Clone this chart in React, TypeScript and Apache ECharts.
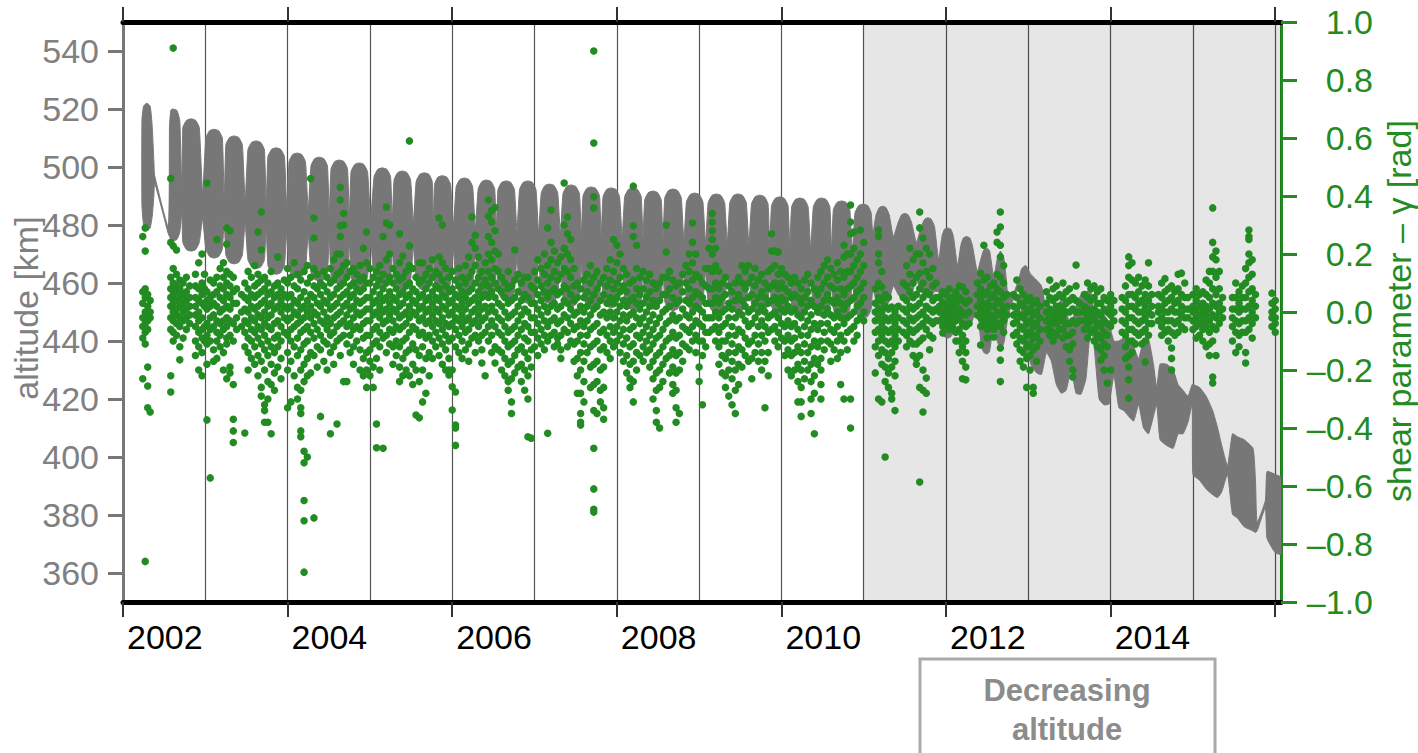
import React, { useEffect, useRef } from "react";
import * as echarts from "echarts";

// ---------- axis ticks / labels ----------
const yearTicks = [2002, 2004, 2006, 2008, 2010, 2012, 2014, 2016];
const yearLabels = [2002, 2004, 2006, 2008, 2010, 2012, 2014];
const altTicks = [360, 380, 400, 420, 440, 460, 480, 500, 520, 540];

// ---------- altitude band outline: [year, upper edge km, lower edge km] ----------
const altBandEarly = [
  [2002.23, 516, 487], [2002.25, 521, 480], [2002.29, 522, 478], [2002.33, 521, 479],
  [2002.355, 514, 483], [2002.375, 502, 490], [2002.385, 497, 494.5], [2002.55, 479.5, 477],
  [2002.565, 514, 476], [2002.58, 519.5, 475], [2002.6, 520, 474.5], [2002.655, 519.5, 475], [2002.69, 516, 477.5],
  [2002.715, 492, 484],
  [2002.727, 513.6, 474], [2002.772, 516.1, 471.5], [2002.827, 516.6, 471], [2002.882, 516.1, 471.5], [2002.927, 513.6, 474],
  [2002.967, 491, 482],
  [2003.007, 510, 471.6], [2003.052, 512.5, 469.1], [2003.107, 513, 468.6], [2003.162, 512.5, 469.1], [2003.207, 510, 471.6],
  [2003.23, 489, 482],
  [2003.25, 507.7, 469.6], [2003.295, 510.2, 467.1], [2003.35, 510.7, 466.6], [2003.405, 510.2, 467.1], [2003.45, 507.7, 469.6],
  [2003.484, 488.5, 480.5],
  [2003.518, 506, 468], [2003.563, 508.5, 465.5], [2003.618, 509, 465], [2003.673, 508.5, 465.5], [2003.718, 506, 468],
  [2003.74, 487.5, 479],
  [2003.761, 503.6, 466], [2003.806, 506.1, 463.5], [2003.861, 506.6, 463], [2003.916, 506.1, 463.5], [2003.961, 503.6, 466],
  [2003.99, 486, 477.5],
  [2004.017, 501.8, 464.7], [2004.062, 504.3, 462.2], [2004.117, 504.8, 461.7], [2004.172, 504.3, 462.2], [2004.217, 501.8, 464.7],
  [2004.25, 485, 476.5],
  [2004.284, 500.4, 463.7], [2004.329, 502.9, 461.2], [2004.384, 503.4, 460.7], [2004.439, 502.9, 461.2], [2004.484, 500.4, 463.7],
  [2004.506, 484, 475.5],
  [2004.528, 499.4, 462.7], [2004.573, 501.9, 460.2], [2004.628, 502.4, 459.7], [2004.683, 501.9, 460.2], [2004.728, 499.4, 462.7],
  [2004.75, 483, 474.5],
  [2004.771, 498.4, 462], [2004.816, 500.9, 459.5], [2004.871, 501.4, 459], [2004.926, 500.9, 459.5], [2004.971, 498.4, 462],
  [2005.01, 482.5, 474],
  [2005.051, 496.7, 461.5], [2005.096, 499.2, 459], [2005.151, 499.7, 458.5], [2005.206, 499.2, 459], [2005.251, 496.7, 461.5],
  [2005.272, 481.5, 473],
  [2005.294, 495.6, 461], [2005.339, 498.1, 458.5], [2005.394, 498.6, 458], [2005.449, 498.1, 458.5], [2005.494, 495.6, 461],
  [2005.528, 481, 472.5],
  [2005.562, 495, 460.5], [2005.607, 497.5, 458], [2005.662, 498, 457.5], [2005.717, 497.5, 458], [2005.757, 495, 460.5],
  [2005.771, 480.5, 472],
  [2005.785, 494, 460], [2005.825, 496.5, 457.5], [2005.88, 497, 457], [2005.935, 496.5, 457.5], [2005.98, 494, 460],
  [2006.014, 480, 471.5],
];
const altBandMid = [
  [2006.048, 493.2, 459], [2006.093, 495.7, 456.5], [2006.148, 496.2, 456], [2006.203, 495.7, 456.5], [2006.248, 493.2, 459],
  [2006.282, 479, 470.5],
  [2006.316, 492.5, 458], [2006.361, 495, 455.5], [2006.416, 495.5, 455], [2006.471, 495, 455.5], [2006.516, 492.5, 458],
  [2006.536, 478.5, 469.5],
  [2006.556, 492.2, 457], [2006.601, 494.7, 454.5], [2006.656, 495.2, 454], [2006.711, 494.7, 454.5], [2006.756, 492.2, 457],
  [2006.787, 478, 469],
  [2006.818, 492.2, 456], [2006.863, 494.7, 453.5], [2006.918, 495.2, 453], [2006.973, 494.7, 453.5], [2007.018, 492.2, 456],
  [2007.05, 477.5, 468],
  [2007.082, 491.1, 456], [2007.127, 493.6, 453.5], [2007.182, 494.1, 453], [2007.237, 493.6, 453.5], [2007.282, 491.1, 456],
  [2007.314, 477, 467.5],
  [2007.346, 490.8, 455], [2007.391, 493.3, 452.5], [2007.446, 493.8, 452], [2007.501, 493.3, 452.5], [2007.546, 490.8, 455],
  [2007.568, 476.5, 467],
  [2007.59, 490.1, 455], [2007.635, 492.6, 452.5], [2007.69, 493.1, 452], [2007.745, 492.6, 452.5], [2007.79, 490.1, 455],
  [2007.81, 476, 466.5],
  [2007.833, 489.8, 454.5], [2007.878, 492.3, 452], [2007.933, 492.8, 451.5], [2007.988, 492.3, 452], [2008.033, 489.8, 454.5],
  [2008.065, 476, 466],
  [2008.096, 489.8, 454], [2008.141, 492.3, 451.5], [2008.196, 492.8, 451], [2008.251, 492.3, 451.5], [2008.296, 489.8, 454],
  [2008.318, 475.5, 465.5],
  [2008.339, 488.7, 454], [2008.384, 491.2, 451.5], [2008.439, 491.7, 451], [2008.494, 491.2, 451.5], [2008.539, 488.7, 454],
  [2008.561, 475, 465],
  [2008.583, 489.4, 453.5], [2008.628, 491.9, 451], [2008.683, 492.4, 450.5], [2008.738, 491.9, 451], [2008.783, 489.4, 453.5],
  [2008.815, 474.5, 464.5],
  [2008.846, 488, 453.5], [2008.891, 490.5, 451], [2008.946, 491, 450.5], [2009.001, 490.5, 451], [2009.046, 488, 453.5],
  [2009.078, 474, 464],
  [2009.11, 487.7, 453], [2009.155, 490.2, 450.5], [2009.21, 490.7, 450], [2009.265, 490.2, 450.5], [2009.31, 487.7, 453],
  [2009.342, 474, 463.5],
  [2009.373, 487.7, 453], [2009.418, 490.2, 450.5], [2009.473, 490.7, 450], [2009.528, 490.2, 450.5], [2009.573, 487.7, 453],
  [2009.605, 473.5, 463],
  [2009.637, 487.3, 452.5], [2009.682, 489.8, 450], [2009.737, 490.3, 449.5], [2009.792, 489.8, 450], [2009.837, 487.3, 452.5],
  [2009.858, 473, 462.5],
  [2009.88, 486.7, 452], [2009.925, 489.2, 449.5], [2009.98, 489.7, 449], [2010.035, 489.2, 449.5], [2010.08, 486.7, 452],
  [2010.102, 472.5, 462],
  [2010.124, 486.3, 452], [2010.169, 488.8, 449.5], [2010.224, 489.3, 449], [2010.279, 488.8, 449.5], [2010.324, 486.3, 452],
  [2010.356, 472, 461.5],
  [2010.388, 486.3, 451.5], [2010.433, 488.8, 449], [2010.488, 489.3, 448.5], [2010.543, 488.8, 449], [2010.588, 486.3, 451.5],
  [2010.61, 471.5, 461],
  [2010.631, 485.3, 451], [2010.676, 487.8, 448.5], [2010.731, 488.3, 448], [2010.786, 487.8, 448.5], [2010.831, 485.3, 451],
  [2010.862, 471, 460.5],
  [2010.894, 484.2, 451], [2010.939, 486.7, 448.5], [2010.994, 487.2, 448], [2011.049, 486.7, 448.5], [2011.09, 484.2, 451],
];
const altBandLate = [
  [2011.11, 477, 458],
  [2011.15, 483.5, 454], [2011.19, 486, 451.5], [2011.23, 486.5, 451], [2011.27, 486, 451.5], [2011.31, 483.5, 454],
  [2011.36, 476, 459],
  [2011.42, 481, 456], [2011.46, 483.5, 454.5], [2011.5, 484, 454], [2011.54, 483.5, 454.5], [2011.58, 481, 456],
  [2011.64, 474, 461],
  [2011.7, 479.5, 457], [2011.74, 482, 455.5], [2011.78, 482.5, 455], [2011.82, 482, 455.5], [2011.86, 479.5, 457],
  [2011.91, 468, 457],
  [2011.95, 476, 443], [2011.98, 478.5, 441.5], [2012.02, 479, 441], [2012.06, 478.5, 441.5], [2012.09, 476, 443],
  [2012.14, 466, 452],
  [2012.18, 473, 447], [2012.21, 475.5, 445], [2012.25, 476, 444.5], [2012.29, 475.5, 445], [2012.32, 473, 447],
  [2012.38, 464, 451],
  [2012.43, 469, 438], [2012.46, 471.5, 436], [2012.5, 472, 435.5], [2012.53, 471, 436.5],
  [2012.58, 462, 446],
  [2012.62, 468, 440], [2012.66, 471, 437.6], [2012.7, 469, 439], [2012.73, 462, 444],
  [2012.75, 456, 448], [2012.8, 455, 453], [2012.88, 461, 458.5], [2012.92, 465, 450], [2012.97, 466, 440],
  [2013.03, 463, 432], [2013.1, 461, 429], [2013.16, 459, 428.5], [2013.22, 450, 436],
  [2013.28, 445, 433], [2013.34, 452, 425], [2013.4, 454, 422], [2013.46, 450, 423],
  [2013.52, 445, 430], [2013.58, 452, 422], [2013.64, 456, 421.7], [2013.7, 457, 427],
  [2013.76, 457, 446], [2013.8, 449, 438], [2013.86, 448, 420], [2013.92, 449, 418],
  [2013.98, 446, 418.3], [2014.04, 440, 428], [2014.1, 440, 417], [2014.16, 441, 416],
  [2014.22, 440, 414], [2014.28, 438, 412.4], [2014.34, 434, 418], [2014.4, 440, 410],
  [2014.46, 440.7, 408], [2014.52, 432, 414], [2014.56, 424, 418], [2014.6, 432, 406],
  [2014.68, 432, 404], [2014.76, 430, 403], [2014.82, 425, 408], [2014.88, 423, 408],
  [2014.94, 421, 412], [2014.99, 425, 418], [2015.0, 425, 394], [2015.08, 424, 392],
  [2015.16, 421, 389], [2015.24, 416, 387], [2015.3, 410, 386], [2015.35, 404, 388],
  [2015.42, 397, 394], [2015.48, 408, 380.3], [2015.54, 407, 379], [2015.62, 406, 376],
  [2015.73, 403, 374.5], [2015.76, 392, 374], [2015.78, 377.5, 374.5], [2015.88, 385, 382.5],
  [2015.9, 395, 372], [2016.0, 394, 367], [2016.07, 393, 366.5],
];

// ---------- shear parameter: [year, value, value, ...] columns ----------
const shear2002 = [
  [2002.24, 0.26, 0.07, 0.03, -0.02, -0.05, -0.09, -0.23],
  [2002.27, 0.29, 0.21, 0.08, 0.05, 0.0, -0.04, -0.07, -0.11, -0.86],
  [2002.3, 0.06, 0.02, -0.01, -0.03, -0.06, -0.19, -0.255, -0.33],
  [2002.33, 0.04, 0.0, -0.02, -0.345],
  [2002.58, 0.46, 0.24, 0.12, 0.08, 0.05, 0.02, -0.02, -0.06, -0.22, -0.276],
  [2002.61, 0.91, 0.228, 0.15, 0.1, 0.06, 0.03, 0.0, -0.03, -0.07, -0.1],
  [2002.65, 0.214, 0.13, 0.09, 0.07, 0.04, 0.01, -0.01, -0.04, -0.08],
  [2002.69, 0.11, 0.08, 0.05, 0.02, -0.02, -0.05, -0.12, -0.165],
  [2002.73, 0.1, 0.06, 0.03, 0.0, -0.03, -0.09],
  [2002.77, 0.12, 0.07, 0.04, 0.01, -0.02, -0.06],
  [2002.81, 0.09, 0.05, 0.02, -0.01, -0.04],
  [2002.88, 0.13, 0.09, 0.05, 0.02, -0.01, -0.05, -0.1, -0.15],
  [2002.92, 0.17, 0.08, 0.04, 0.0, -0.03, -0.07, -0.12, -0.2],
  [2002.96, 0.2, 0.1, 0.06, 0.03, -0.02, -0.06, -0.09, -0.14, -0.22],
  [2002.99, 0.13, 0.08, 0.02, -0.05, -0.1],
];
const shear2003 = [
  [2003.02, 0.445, 0.07, 0.04, 0.01, -0.04, -0.08, -0.11, -0.18, -0.372],
  [2003.06, 0.11, 0.05, 0.02, -0.02, -0.06, -0.1, -0.572],
  [2003.1, 0.1, 0.06, 0.03, -0.01, -0.05, -0.13, -0.17],
  [2003.14, 0.25, 0.12, 0.07, 0.02, -0.03, -0.07, -0.1, -0.16],
  [2003.18, 0.15, 0.09, 0.05, 0.0, -0.04, -0.08, -0.12],
  [2003.22, 0.17, 0.12, 0.08, 0.04, 0.01, -0.03, -0.06, -0.14, -0.2],
  [2003.26, 0.29, 0.234, 0.14, 0.1, 0.06, 0.02, -0.02, -0.05, -0.09, -0.11, -0.23],
  [2003.3, 0.28, 0.13, 0.09, 0.05, 0.01, -0.03, -0.08, -0.19, -0.21],
  [2003.34, 0.12, 0.07, 0.03, -0.04, -0.1, -0.25, -0.37, -0.41, -0.45],
  [2003.38, 0.08, 0.03, -0.02, -0.06],
  [2003.44, 0.06, 0.0, -0.05],
  [2003.48, 0.1, 0.05, 0.01, -0.03, -0.07, -0.12, -0.417],
  [2003.52, 0.14, 0.08, 0.04, 0.0, -0.04, -0.09, -0.14, -0.2],
  [2003.56, 0.12, 0.06, 0.02, -0.02, -0.06, -0.1, -0.16],
  [2003.6, 0.16, 0.09, 0.05, 0.01, -0.03, -0.07, -0.12, -0.18],
  [2003.64, 0.276, 0.13, 0.1, 0.06, 0.02, -0.01, -0.05, -0.09, -0.15, -0.22],
  [2003.68, 0.345, 0.214, 0.11, 0.07, 0.03, -0.02, -0.06, -0.11, -0.17, -0.26, -0.29],
  [2003.72, 0.12, 0.08, 0.04, 0.0, -0.04, -0.08, -0.13, -0.2, -0.32, -0.34, -0.38],
  [2003.76, 0.1, 0.06, 0.02, -0.02, -0.05, -0.1, -0.15, -0.24, -0.3, -0.38],
  [2003.8, 0.14, 0.07, 0.03, -0.01, -0.06, -0.12, -0.18, -0.25, -0.42],
  [2003.84, 0.09, 0.05, 0.01, -0.04, -0.09, -0.14, -0.21, -0.27],
  [2003.88, 0.19, 0.1, 0.06, 0.02, -0.03, -0.08, -0.12, -0.19],
  [2003.92, 0.08, 0.04, 0.0, -0.05, -0.1, -0.16, -0.23],
  [2003.96, 0.11, 0.06, 0.02, -0.02, -0.07],
];
const shear2004 = [
  [2004.0, 0.15, 0.1, 0.05, 0.01, -0.03, -0.08, -0.14, -0.2, -0.33],
  [2004.04, 0.12, 0.06, 0.02, -0.02, -0.06, -0.1, -0.17, -0.31],
  [2004.08, 0.17, 0.09, 0.04, 0.0, -0.05, -0.12, -0.22],
  [2004.12, 0.13, 0.08, 0.03, -0.01, -0.04, -0.09, -0.15, -0.26, -0.3],
  [2004.16, 0.11, 0.05, 0.01, -0.03, -0.07, -0.13, -0.2, -0.27, -0.33, -0.35, -0.41, -0.43],
  [2004.2, 0.14, 0.07, 0.02, -0.02, -0.06, -0.11, -0.18, -0.24, -0.48, -0.52, -0.65, -0.72, -0.897],
  [2004.24, 0.16, 0.1, 0.04, 0.0, -0.05, -0.1, -0.16, -0.22, -0.5],
  [2004.28, 0.46, 0.12, 0.06, 0.02, -0.02, -0.07, -0.14, -0.21],
  [2004.32, 0.324, 0.255, 0.15, 0.09, 0.05, 0.0, -0.04, -0.09, -0.15, -0.71],
  [2004.36, 0.13, 0.08, 0.03, -0.01, -0.06, -0.12, -0.19],
  [2004.4, 0.1, 0.06, 0.02, -0.03, -0.08, -0.13, -0.36],
  [2004.44, 0.14, 0.09, 0.04, 0.0, -0.04, -0.1, -0.17],
  [2004.48, 0.12, 0.07, 0.03, -0.02, -0.06, -0.11, -0.2],
  [2004.52, 0.15, 0.1, 0.05, 0.01, -0.04, -0.08, -0.14, -0.42],
  [2004.56, 0.18, 0.11, 0.06, 0.02, -0.02, -0.07, -0.12, -0.18],
  [2004.6, 0.2, 0.13, 0.08, 0.03, -0.01, -0.05, -0.1, -0.386],
  [2004.64, 0.43, 0.386, 0.297, 0.26, 0.2, 0.14, 0.09, 0.05, 0.0, -0.04, -0.09, -0.15],
  [2004.68, 0.34, 0.3, 0.16, 0.1, 0.06, 0.02, -0.03, -0.08, -0.24],
  [2004.72, 0.17, 0.12, 0.07, 0.03, -0.01, -0.05, -0.11, -0.24],
  [2004.76, 0.14, 0.09, 0.05, 0.01, -0.04, -0.08, -0.14],
  [2004.8, 0.15, 0.1, 0.06, 0.02, -0.02, -0.06, -0.12, -0.18],
  [2004.84, 0.13, 0.08, 0.04, 0.0, -0.05, -0.1],
  [2004.88, 0.16, 0.11, 0.07, 0.03, -0.01, -0.06, -0.13, -0.2],
  [2004.92, 0.22, 0.12, 0.08, 0.04, 0.0, -0.04, -0.09, -0.16, -0.22],
  [2004.96, 0.276, 0.17, 0.1, 0.05, 0.01, -0.03, -0.08, -0.14, -0.2, -0.26],
];
const shear2005 = [
  [2005.0, 0.15, 0.1, 0.05, 0.01, -0.03, -0.08, -0.13, -0.17, -0.22],
  [2005.04, 0.12, 0.07, 0.03, -0.01, -0.06, -0.11, -0.19, -0.26],
  [2005.08, 0.14, 0.09, 0.04, 0.0, -0.05, -0.1, -0.16, -0.386, -0.468],
  [2005.12, 0.16, 0.11, 0.06, 0.02, -0.02, -0.07, -0.12, -0.2],
  [2005.16, 0.26, 0.13, 0.08, 0.04, 0.0, -0.04, -0.09, -0.47],
  [2005.2, 0.362, 0.307, 0.18, 0.1, 0.05, 0.01, -0.03, -0.08, -0.14],
  [2005.24, 0.3, 0.2, 0.12, 0.07, 0.03, -0.01, -0.06, -0.11],
  [2005.28, 0.15, 0.1, 0.05, 0.01, -0.03, -0.07, -0.12, -0.18],
  [2005.32, 0.13, 0.08, 0.04, 0.0, -0.05, -0.1, -0.15],
  [2005.36, 0.27, 0.17, 0.11, 0.06, 0.02, -0.02, -0.06, -0.12, -0.19, -0.24],
  [2005.4, 0.193, 0.12, 0.07, 0.03, -0.01, -0.05, -0.1, -0.16, -0.22],
  [2005.44, 0.14, 0.09, 0.05, 0.0, -0.04, -0.09, -0.14, -0.2],
  [2005.48, 0.59, 0.228, 0.16, 0.1, 0.06, 0.02, -0.02, -0.07, -0.13, -0.22],
  [2005.52, 0.15, 0.08, 0.04, 0.0, -0.05, -0.11, -0.18, -0.25],
  [2005.56, 0.12, 0.07, 0.03, -0.01, -0.06, -0.13, -0.2, -0.355],
  [2005.6, 0.17, 0.1, 0.05, 0.01, -0.03, -0.08, -0.15, -0.24, -0.365],
  [2005.64, 0.17, 0.11, 0.06, 0.02, -0.02, -0.07, -0.12, -0.2, -0.31],
  [2005.68, 0.13, 0.08, 0.04, 0.0, -0.04, -0.09, -0.16, -0.28],
  [2005.72, 0.15, 0.1, 0.05, 0.01, -0.03, -0.08, -0.14, -0.22],
  [2005.76, 0.18, 0.12, 0.07, 0.03, -0.01, -0.05, -0.1, -0.16],
  [2005.8, 0.14, 0.09, 0.05, 0.01, -0.03, -0.07, -0.12],
  [2005.84, 0.324, 0.19, 0.13, 0.08, 0.04, 0.0, -0.04, -0.09, -0.15],
  [2005.88, 0.3, 0.17, 0.11, 0.06, 0.02, -0.02, -0.06, -0.11, -0.18],
  [2005.92, 0.15, 0.09, 0.05, 0.01, -0.04, -0.08, -0.13, -0.2],
  [2005.96, 0.12, 0.07, 0.03, -0.01, -0.05, -0.1, -0.16, -0.2, -0.217],
];
const shear2006 = [
  [2006.0, 0.14, 0.08, 0.04, 0.0, -0.04, -0.09, -0.2, -0.258, -0.338],
  [2006.04, 0.11, 0.06, 0.02, -0.02, -0.06, -0.12, -0.276, -0.39, -0.4, -0.46],
  [2006.08, 0.15, 0.09, 0.05, 0.01, -0.03, -0.08, -0.14],
  [2006.12, 0.12, 0.07, 0.03, -0.01, -0.05, -0.1, -0.16],
  [2006.16, 0.16, 0.1, 0.05, 0.01, -0.03, -0.07, -0.13],
  [2006.2, 0.19, 0.12, 0.07, 0.03, -0.02, -0.06, -0.11, -0.17],
  [2006.24, 0.328, 0.24, 0.14, 0.08, 0.04, 0.0, -0.04, -0.09],
  [2006.28, 0.265, 0.22, 0.16, 0.1, 0.05, 0.01, -0.03, -0.08, -0.14],
  [2006.32, 0.19, 0.12, 0.07, 0.03, -0.01, -0.05, -0.1],
  [2006.36, 0.14, 0.09, 0.05, 0.01, -0.03, -0.08, -0.13, -0.176],
  [2006.4, 0.17, 0.11, 0.06, 0.02, -0.02, -0.07, -0.22],
  [2006.44, 0.386, 0.33, 0.26, 0.2, 0.14, 0.09, 0.05, 0.0, -0.05, -0.1],
  [2006.48, 0.35, 0.31, 0.24, 0.18, 0.12, 0.07, 0.02, -0.03, -0.08, -0.14],
  [2006.52, 0.36, 0.28, 0.21, 0.15, 0.1, 0.05, 0.0, -0.05, -0.12, -0.176],
  [2006.56, 0.2, 0.14, 0.08, 0.03, -0.02, -0.07, -0.13],
  [2006.6, 0.12, 0.07, 0.02, -0.03, -0.08, -0.14, -0.2],
  [2006.64, 0.1, 0.05, 0.0, -0.05, -0.1, -0.16, -0.22],
  [2006.68, 0.14, 0.08, 0.03, -0.02, -0.07, -0.12, -0.18, -0.24, -0.27],
  [2006.72, 0.09, 0.04, -0.01, -0.06, -0.11, -0.17, -0.23, -0.31, -0.35],
  [2006.76, 0.214, 0.11, 0.05, 0.0, -0.05, -0.1, -0.15, -0.21],
  [2006.8, 0.13, 0.07, 0.02, -0.03, -0.08, -0.13, -0.19],
  [2006.84, 0.1, 0.04, -0.01, -0.06, -0.12, -0.18, -0.24],
  [2006.88, 0.12, 0.06, 0.01, -0.04, -0.09, -0.14, -0.2, -0.27],
  [2006.92, 0.12, 0.05, 0.0, -0.05, -0.1, -0.16, -0.22, -0.3, -0.43],
  [2006.96, 0.09, 0.03, -0.02, -0.07, -0.13, -0.19, -0.435],
];
const shear2007 = [
  [2007.0, 0.14, 0.08, 0.03, -0.02, -0.07, -0.12],
  [2007.04, 0.18, 0.11, 0.06, 0.01, -0.04, -0.09, -0.15],
  [2007.08, 0.15, 0.09, 0.04, -0.01, -0.06, -0.11],
  [2007.12, 0.2, 0.13, 0.07, 0.02, -0.03, -0.08, -0.13],
  [2007.16, 0.29, 0.16, 0.1, 0.05, 0.0, -0.05, -0.1, -0.418],
  [2007.2, 0.352, 0.24, 0.18, 0.12, 0.07, 0.02, -0.03, -0.08],
  [2007.24, 0.21, 0.14, 0.08, 0.03, -0.02, -0.07, -0.12],
  [2007.28, 0.17, 0.11, 0.06, 0.01, -0.04, -0.09, -0.11],
  [2007.32, 0.19, 0.13, 0.07, 0.02, -0.03, -0.08, -0.13, -0.16],
  [2007.36, 0.445, 0.3, 0.22, 0.15, 0.09, 0.04, -0.01, -0.06],
  [2007.4, 0.328, 0.27, 0.2, 0.14, 0.08, 0.03, -0.02, -0.07, -0.12],
  [2007.44, 0.25, 0.18, 0.12, 0.06, 0.01, -0.04, -0.1],
  [2007.48, 0.15, 0.09, 0.04, -0.01, -0.06, -0.11, -0.17],
  [2007.52, 0.1, 0.05, 0.0, -0.05, -0.1, -0.16, -0.22, -0.28],
  [2007.56, 0.08, 0.02, -0.03, -0.08, -0.14, -0.2, -0.28, -0.35, -0.38, -0.39],
  [2007.6, 0.11, 0.05, 0.0, -0.05, -0.11, -0.17, -0.24, -0.31],
  [2007.64, 0.13, 0.07, 0.02, -0.03, -0.08, -0.14],
  [2007.68, 0.16, 0.1, 0.04, -0.01, -0.06, -0.12, -0.19, -0.26],
  [2007.72, 0.9, 0.583, 0.397, 0.359, 0.12, 0.06, 0.01, -0.05, -0.11, -0.18, -0.25, -0.34, -0.47, -0.61, -0.68, -0.69],
  [2007.76, 0.14, 0.08, 0.02, -0.04, -0.1, -0.17, -0.24, -0.35],
  [2007.8, 0.1, 0.04, -0.01, -0.07, -0.13, -0.2, -0.27, -0.31],
  [2007.84, 0.12, 0.06, 0.0, -0.06, -0.12, -0.19, -0.26, -0.33, -0.37],
  [2007.88, 0.15, 0.09, 0.03, -0.02, -0.08, -0.14],
  [2007.92, 0.18, 0.11, 0.05, 0.0, -0.05, -0.1, -0.16],
  [2007.96, 0.25, 0.14, 0.08, 0.03, -0.02, -0.07, -0.12],
];
const shear2008 = [
  [2008.0, 0.23, 0.17, 0.1, 0.05, 0.0, -0.05, -0.1],
  [2008.04, 0.2, 0.12, 0.07, 0.02, -0.03, -0.08, -0.14],
  [2008.08, 0.15, 0.09, 0.04, -0.01, -0.06, -0.11, -0.17],
  [2008.12, 0.13, 0.07, 0.02, -0.03, -0.09, -0.15, -0.21],
  [2008.16, 0.1, 0.04, -0.01, -0.06, -0.12, -0.18, -0.23, -0.26],
  [2008.2, 0.434, 0.297, 0.26, 0.11, 0.05, 0.0, -0.05, -0.11, -0.17, -0.24, -0.31],
  [2008.24, 0.23, 0.15, 0.08, 0.03, -0.02, -0.08, -0.14, -0.2],
  [2008.28, 0.12, 0.06, 0.01, -0.04, -0.09, -0.15],
  [2008.32, 0.14, 0.08, 0.03, -0.02, -0.07, -0.12, -0.17],
  [2008.36, 0.11, 0.05, 0.0, -0.05, -0.1, -0.14],
  [2008.4, 0.13, 0.07, 0.02, -0.03, -0.08, -0.13, -0.19],
  [2008.44, 0.1, 0.04, -0.01, -0.06, -0.11, -0.17, -0.23, -0.3],
  [2008.48, 0.08, 0.02, -0.04, -0.09, -0.15, -0.21, -0.27, -0.34, -0.38],
  [2008.52, 0.1, 0.04, -0.02, -0.08, -0.14, -0.2, -0.26, -0.4],
  [2008.56, 0.12, 0.06, 0.0, -0.06, -0.12, -0.18, -0.24],
  [2008.6, 0.3, 0.207, 0.12, 0.06, 0.01, -0.04, -0.1, -0.16],
  [2008.64, 0.14, 0.08, 0.02, -0.03, -0.09, -0.15, -0.21],
  [2008.68, 0.11, 0.05, -0.01, -0.07, -0.13, -0.19, -0.25, -0.28],
  [2008.72, 0.09, 0.03, -0.03, -0.09, -0.15, -0.21, -0.27, -0.33, -0.38],
  [2008.76, 0.1, 0.04, -0.02, -0.08, -0.14, -0.2, -0.35],
  [2008.8, 0.13, 0.07, 0.01, -0.05, -0.11, -0.17],
  [2008.84, 0.16, 0.1, 0.04, -0.01, -0.06, -0.12],
  [2008.88, 0.2, 0.14, 0.08, 0.03, -0.02, -0.07, -0.13],
  [2008.92, 0.307, 0.24, 0.17, 0.11, 0.05, 0.0, -0.05, -0.1],
  [2008.96, 0.2, 0.13, 0.07, 0.02, -0.03, -0.08, -0.14],
];
const shear2009 = [
  [2009.0, 0.12, 0.06, 0.01, -0.04, -0.1, -0.19, -0.24],
  [2009.04, 0.1, 0.05, 0.0, -0.05, -0.1, -0.15, -0.32],
  [2009.08, 0.15, 0.09, 0.03, -0.02, -0.07, -0.12],
  [2009.12, 0.22, 0.15, 0.08, 0.03, -0.02, -0.07],
  [2009.16, 0.34, 0.31, 0.28, 0.25, 0.2, 0.14, 0.08, 0.03, -0.02, -0.06],
  [2009.2, 0.22, 0.16, 0.1, 0.05, 0.0, -0.05, -0.1],
  [2009.24, 0.14, 0.08, 0.03, -0.02, -0.07, -0.12, -0.18],
  [2009.28, 0.1, 0.05, 0.0, -0.05, -0.1, -0.15, -0.21],
  [2009.32, 0.12, 0.06, 0.01, -0.04, -0.1, -0.16, -0.22, -0.26],
  [2009.36, 0.09, 0.03, -0.02, -0.08, -0.14, -0.2, -0.29],
  [2009.4, 0.07, 0.01, -0.05, -0.11, -0.17, -0.23, -0.32],
  [2009.44, 0.1, 0.04, -0.02, -0.08, -0.14, -0.2, -0.27, -0.35],
  [2009.48, 0.12, 0.06, 0.0, -0.06, -0.12, -0.18, -0.25],
  [2009.52, 0.16, 0.1, 0.04, -0.01, -0.07, -0.13, -0.19],
  [2009.56, 0.14, 0.08, 0.02, -0.03, -0.09, -0.15],
  [2009.6, 0.16, 0.1, 0.05, 0.0, -0.05, -0.11, -0.17],
  [2009.64, 0.12, 0.06, 0.01, -0.04, -0.1, -0.16, -0.23],
  [2009.68, 0.15, 0.09, 0.03, -0.02, -0.08, -0.14],
  [2009.72, 0.11, 0.05, 0.0, -0.05, -0.11, -0.17],
  [2009.76, 0.13, 0.07, 0.02, -0.03, -0.08, -0.14, -0.2],
  [2009.8, 0.1, 0.05, 0.0, -0.05, -0.1, -0.17, -0.33],
  [2009.84, 0.14, 0.08, 0.03, -0.02, -0.07, -0.14, -0.22],
  [2009.88, 0.27, 0.21, 0.15, 0.09, 0.04, -0.01, -0.06],
  [2009.92, 0.21, 0.16, 0.1, 0.05, 0.0, -0.05, -0.1],
  [2009.96, 0.207, 0.13, 0.08, 0.03, -0.02, -0.07, -0.12],
];
const shear2010 = [
  [2010.0, 0.15, 0.1, 0.05, 0.01, -0.04, -0.09],
  [2010.04, 0.13, 0.08, 0.04, 0.0, -0.05, -0.1, -0.15],
  [2010.08, 0.12, 0.07, 0.02, -0.03, -0.08, -0.13, -0.2],
  [2010.12, 0.1, 0.05, 0.0, -0.05, -0.1, -0.15, -0.22],
  [2010.16, 0.12, 0.06, 0.01, -0.04, -0.09, -0.14, -0.2],
  [2010.2, 0.1, 0.05, -0.01, -0.06, -0.12, -0.18, -0.24, -0.31],
  [2010.24, 0.08, 0.03, -0.02, -0.08, -0.14, -0.2, -0.26, -0.31, -0.36],
  [2010.28, 0.11, 0.05, 0.0, -0.05, -0.11, -0.17, -0.23],
  [2010.32, 0.13, 0.07, 0.02, -0.03, -0.08, -0.14, -0.2],
  [2010.36, 0.1, 0.04, -0.01, -0.06, -0.12, -0.18, -0.24, -0.3, -0.35],
  [2010.4, 0.08, 0.02, -0.04, -0.1, -0.16, -0.22, -0.28, -0.42],
  [2010.44, 0.12, 0.06, 0.0, -0.06, -0.12, -0.18],
  [2010.48, 0.14, 0.08, 0.02, -0.04, -0.1, -0.16, -0.2, -0.25, -0.3],
  [2010.52, 0.16, 0.1, 0.04, -0.01, -0.07, -0.13],
  [2010.56, 0.18, 0.12, 0.06, 0.01, -0.04, -0.1],
  [2010.6, 0.15, 0.09, 0.04, -0.01, -0.06, -0.11, -0.17],
  [2010.64, 0.13, 0.08, 0.03, -0.02, -0.07, -0.13],
  [2010.68, 0.17, 0.11, 0.05, 0.0, -0.05, -0.1, -0.16],
  [2010.72, 0.14, 0.08, 0.03, -0.02, -0.08, -0.14, -0.25],
  [2010.76, 0.23, 0.19, 0.12, 0.06, 0.01, -0.04, -0.1, -0.3],
  [2010.8, 0.2, 0.14, 0.08, 0.03, -0.02, -0.07, -0.13],
  [2010.84, 0.369, 0.31, 0.27, 0.2, 0.14, 0.09, 0.04, -0.01, -0.06, -0.3, -0.4],
  [2010.88, 0.276, 0.22, 0.16, 0.1, 0.05, 0.0, -0.05, -0.1],
  [2010.92, 0.18, 0.12, 0.07, 0.02, -0.03, -0.08],
  [2010.96, 0.283, 0.2, 0.14, 0.08, 0.03, -0.02],
  [2011.0, 0.24, 0.16, 0.1, 0.05, 0.0, -0.03],
];
const shear2011 = [
  [2011.14, 0.08, 0.03, 0.0, -0.03, -0.07, -0.12, -0.21],
  [2011.18, 0.283, 0.26, 0.2, 0.17, 0.1, 0.05, 0.01, -0.02, -0.06, -0.1, -0.15, -0.3],
  [2011.22, 0.14, 0.086, 0.04, 0.0, -0.04, -0.08, -0.13, -0.18, -0.31],
  [2011.26, 0.06, 0.02, -0.02, -0.06, -0.1, -0.14, -0.19, -0.24, -0.5],
  [2011.3, 0.05, 0.01, -0.03, -0.07, -0.11, -0.16, -0.21, -0.26],
  [2011.34, 0.017, -0.02, -0.06, -0.1, -0.14, -0.19, -0.28, -0.3],
  [2011.38, 0.0, -0.04, -0.08, -0.12, -0.17, -0.22, -0.34],
  [2011.42, 0.02, -0.02, -0.06, -0.1],
  [2011.48, 0.1, 0.05, 0.01, -0.03, -0.07],
  [2011.52, 0.16, 0.09, 0.04, 0.0, -0.04, -0.08, -0.12],
  [2011.56, 0.22, 0.13, 0.07, 0.02, -0.02, -0.06, -0.1],
  [2011.6, 0.18, 0.1, 0.05, 0.01, -0.03, -0.07, -0.11, -0.15],
  [2011.64, 0.2, 0.12, 0.06, 0.02, -0.02, -0.06, -0.11, -0.16, -0.18],
  [2011.68, 0.345, 0.29, 0.2, 0.134, 0.08, 0.03, -0.01, -0.05, -0.1, -0.15, -0.26, -0.586],
  [2011.72, 0.255, 0.17, 0.1, 0.05, 0.0, -0.04, -0.09, -0.2, -0.27, -0.345],
  [2011.76, 0.22, 0.14, 0.07, 0.02, -0.02, -0.06, -0.228, -0.28],
  [2011.8, 0.2, 0.12, 0.06, 0.01, -0.03, -0.08, -0.13],
  [2011.84, 0.15, 0.09, 0.04, 0.0, -0.04, -0.09],
  [2011.88, 0.1, 0.05, 0.01, -0.03],
  [2011.92, 0.05, 0.02, 0.0, -0.03],
  [2011.96, 0.07, 0.03, 0.0, -0.02, -0.05, -0.072],
];
const shear2012 = [
  [2012.0, 0.06, 0.02, 0.0, -0.01, -0.04],
  [2012.04, 0.08, 0.04, 0.01, -0.01, -0.03, -0.06],
  [2012.08, 0.05, 0.02, 0.0, -0.02, -0.05],
  [2012.12, 0.07, 0.03, 0.0, -0.03, -0.07, -0.1],
  [2012.16, 0.09, 0.05, 0.01, -0.02, -0.06, -0.1, -0.14],
  [2012.2, 0.086, 0.04, 0.0, -0.04, -0.08, -0.12, -0.17, -0.23],
  [2012.24, 0.07, 0.03, -0.01, -0.05, -0.1, -0.14, -0.19, -0.234],
  [2012.28, 0.04, 0.0, -0.04],
  [2012.38, 0.1, 0.06, 0.02, -0.01],
  [2012.42, 0.134, 0.08, 0.04, 0.01, -0.02, -0.05, -0.114],
  [2012.46, 0.23, 0.11, 0.06, 0.02, -0.01, -0.04],
  [2012.5, 0.12, 0.07, 0.03, 0.0, -0.03, -0.06, -0.09],
  [2012.54, 0.09, 0.05, 0.02, -0.01, -0.04],
  [2012.58, 0.1, 0.06, 0.02, -0.02, -0.06, -0.086],
  [2012.62, 0.276, 0.24, 0.13, 0.08, 0.04, 0.0, -0.04],
  [2012.66, 0.345, 0.293, 0.23, 0.19, 0.12, 0.07, 0.03, -0.01, -0.05, -0.124, -0.166, -0.24],
  [2012.7, 0.16, 0.1, 0.05, 0.01, -0.03, -0.07],
  [2012.74, 0.06, 0.02, -0.01],
  [2012.82, 0.06, 0.02, -0.01, -0.04, -0.08],
  [2012.86, 0.11, 0.05, 0.01, -0.03, -0.07, -0.11],
  [2012.9, 0.08, 0.03, -0.01, -0.05, -0.09, -0.13, -0.17],
  [2012.94, 0.06, 0.02, -0.02, -0.06, -0.1, -0.14, -0.19],
  [2012.98, 0.04, 0.0, -0.04, -0.08, -0.12, -0.16, -0.26],
];
const shear2013 = [
  [2013.02, 0.05, 0.01, -0.03, -0.07, -0.11, -0.15, -0.2],
  [2013.06, 0.03, -0.01, -0.05, -0.09, -0.13, -0.26, -0.28],
  [2013.1, 0.04, 0.0, -0.04, -0.08, -0.12, -0.17],
  [2013.14, 0.02, -0.02, -0.06, -0.1],
  [2013.22, 0.07, 0.03, 0.0, -0.03, -0.06],
  [2013.26, 0.11, 0.05, 0.01, -0.02, -0.05, -0.08],
  [2013.3, 0.08, 0.04, 0.0, -0.03, -0.07, -0.1],
  [2013.34, 0.09, 0.05, 0.02, -0.01, -0.04, -0.08],
  [2013.38, 0.06, 0.02, 0.0, -0.03, -0.06],
  [2013.42, 0.1, 0.05, 0.01, -0.02, -0.06, -0.09],
  [2013.46, 0.07, 0.03, 0.0, -0.04, -0.08, -0.12],
  [2013.5, 0.08, 0.04, 0.0, -0.04, -0.08, -0.13, -0.17],
  [2013.54, 0.05, 0.01, -0.03, -0.07, -0.11, -0.2, -0.224],
  [2013.58, 0.162, 0.09, 0.04, 0.0, -0.04],
  [2013.62, 0.03, 0.0, -0.03],
  [2013.68, 0.06, 0.02, 0.0, -0.03, -0.06],
  [2013.72, 0.1, 0.05, 0.01, -0.02, -0.05, -0.09],
  [2013.76, 0.08, 0.04, 0.0, -0.03, -0.07],
  [2013.8, 0.09, 0.05, 0.01, -0.02, -0.06, -0.1],
  [2013.84, 0.07, 0.03, 0.0, -0.04, -0.08, -0.12],
  [2013.88, 0.08, 0.03, -0.01, -0.05, -0.09, -0.13, -0.166],
  [2013.92, 0.05, 0.01, -0.03, -0.07, -0.11, -0.15, -0.2],
  [2013.96, 0.04, 0.0, -0.04, -0.08, -0.12, -0.245],
];
const shear2014 = [
  [2014.0, 0.06, 0.02, -0.01, -0.05, -0.2],
  [2014.04, 0.04, 0.0, -0.03],
  [2014.14, 0.05, 0.01, -0.03, -0.07],
  [2014.18, 0.09, 0.04, 0.0, -0.04, -0.08, -0.12, -0.16],
  [2014.22, 0.19, 0.16, 0.12, 0.06, 0.02, -0.02, -0.06, -0.1, -0.15, -0.19, -0.234, -0.297],
  [2014.26, 0.17, 0.11, 0.06, 0.02, -0.02, -0.06, -0.1, -0.14],
  [2014.3, 0.1, 0.05, 0.01, -0.03, -0.07, -0.11],
  [2014.34, 0.12, 0.07, 0.03, 0.0, -0.04, -0.08],
  [2014.38, 0.09, 0.04, 0.0, -0.03, -0.07, -0.11],
  [2014.42, 0.11, 0.06, 0.02, -0.02, -0.06, -0.1, -0.172],
  [2014.46, 0.17, 0.09, 0.04, 0.0, -0.04, -0.08],
  [2014.5, 0.06, 0.02, -0.01, -0.04],
  [2014.58, 0.06, 0.02, 0.0, -0.03],
  [2014.62, 0.1, 0.05, 0.01, -0.02, -0.05, -0.08],
  [2014.66, 0.115, 0.07, 0.03, 0.0, -0.03, -0.07],
  [2014.7, 0.08, 0.04, 0.0, -0.03, -0.06, -0.1],
  [2014.74, 0.09, 0.05, 0.01, -0.03, -0.07, -0.124, -0.16, -0.2],
  [2014.78, 0.07, 0.03, 0.0, -0.04, -0.08],
  [2014.82, 0.13, 0.08, 0.04, 0.0, -0.03, -0.07],
  [2014.86, 0.134, 0.06, 0.02, -0.01, -0.05],
  [2014.9, 0.1, 0.05, 0.01, -0.02, -0.06],
  [2014.94, 0.05, 0.01, -0.02],
];
const shear2015 = [
  [2015.0, 0.06, 0.02, 0.0, -0.03, -0.06],
  [2015.04, 0.08, 0.04, 0.01, -0.02, -0.05, -0.09],
  [2015.08, 0.06, 0.02, -0.01, -0.04, -0.08],
  [2015.12, 0.07, 0.03, 0.0, -0.03, -0.06, -0.1],
  [2015.16, 0.11, 0.06, 0.02, -0.01, -0.05, -0.12],
  [2015.2, 0.14, 0.1, 0.05, 0.01, -0.03, -0.07, -0.11, -0.15],
  [2015.24, 0.359, 0.24, 0.19, 0.14, 0.08, 0.03, -0.01, -0.05, -0.1, -0.224, -0.245],
  [2015.28, 0.21, 0.18, 0.12, 0.06, 0.02, -0.02, -0.06, -0.15],
  [2015.32, 0.14, 0.08, 0.03, 0.0, -0.04],
  [2015.36, 0.05, 0.01, -0.02],
  [2015.48, 0.05, 0.01, -0.02, -0.05, -0.1],
  [2015.52, 0.1, 0.05, 0.01, -0.03, -0.07, -0.14],
  [2015.56, 0.07, 0.03, 0.0, -0.04, -0.08, -0.12],
  [2015.6, 0.09, 0.05, 0.01, -0.03, -0.07],
  [2015.64, 0.15, 0.1, 0.05, 0.01, -0.03, -0.07, -0.14, -0.176],
  [2015.68, 0.283, 0.26, 0.25, 0.2, 0.17, 0.12, 0.07, 0.02, -0.02, -0.06],
  [2015.72, 0.18, 0.13, 0.08, 0.04, 0.0, -0.04, -0.09],
  [2015.76, 0.06, 0.02, -0.02],
  [2015.96, 0.065, 0.03, 0.0, -0.02, -0.05],
  [2016.0, 0.04, 0.01, -0.02, -0.04, -0.07],
];

const FONT = "Liberation Sans, Arial, Helvetica, sans-serif";
const GREEN = "#228B22";
const GRAY_BAND = "#777777";
const X_MIN = 2002;
const X_MAX = 2016.07;

export default function App() {
  const ref = useRef<HTMLDivElement>(null);

  useEffect(() => {
    if (!ref.current) return;
    const chart = echarts.init(ref.current, null, { renderer: "svg" });

    const band = [...altBandEarly, ...altBandMid, ...altBandLate];

    const shearCols = [
      ...shear2002, ...shear2003, ...shear2004, ...shear2005, ...shear2006,
      ...shear2007, ...shear2008, ...shear2009, ...shear2010, ...shear2011,
      ...shear2012, ...shear2013, ...shear2014, ...shear2015,
    ];
    const shearPts: number[][] = [];
    shearCols.forEach((col) => {
      for (let i = 1; i < col.length; i++) shearPts.push([col[0], col[i]]);
    });

    const fmtShear = (v: number) => {
      const s = Math.abs(v).toFixed(1);
      return v < -1e-9 ? "\u2013" + s : s;
    };

    // altitude band drawn as a single polygon through the chart's own scales
    const renderBand = (params: any, api: any) => {
      if (params.dataIndex !== 0) return null;
      const upper = band.map((r) => api.coord([r[0], r[1]]));
      const lower = band.map((r) => api.coord([r[0], r[2]])).reverse();
      return {
        type: "polygon",
        shape: { points: upper.concat(lower), smooth: 0.15 },
        style: { fill: GRAY_BAND, stroke: GRAY_BAND, lineWidth: 1 },
        silent: true,
      };
    };

    chart.setOption({
      animation: false,
      textStyle: { fontFamily: FONT },
      grid: { left: 123, right: 137, top: 22, bottom: 151, containLabel: false },
      xAxis: [
        {
          type: "value",
          position: "bottom",
          min: X_MIN,
          max: X_MAX,
          axisLine: { show: true, onZero: false, lineStyle: { color: "#000", width: 5 } },
          axisTick: { show: true, length: 15, customValues: yearTicks, lineStyle: { color: "#333", width: 2 } },
          axisLabel: {
            customValues: yearLabels,
            formatter: (v: number) => String(Math.round(v)),
            color: "#000",
            fontSize: 34,
            fontFamily: FONT,
            align: "left",
            margin: 18,
            padding: [0, 0, 0, 4],
          },
          splitLine: { show: false },
        },
        {
          type: "value",
          position: "top",
          min: X_MIN,
          max: X_MAX,
          axisLine: { show: true, onZero: false, lineStyle: { color: "#000", width: 5 } },
          axisTick: { show: true, length: 15, customValues: yearTicks, lineStyle: { color: "#333", width: 2 } },
          axisLabel: { show: false },
          splitLine: { show: false },
        },
        {
          type: "value",
          position: "bottom",
          min: X_MIN,
          max: X_MAX,
          interval: 1,
          axisLine: { show: false },
          axisTick: { show: false },
          axisLabel: { show: false },
          splitLine: { show: true, lineStyle: { color: "#555", width: 1.2 } },
        },
      ],
      yAxis: [
        {
          type: "value",
          position: "left",
          min: 350,
          max: 550,
          axisLine: { show: true, lineStyle: { color: "#777", width: 3 } },
          axisTick: { show: true, length: 15, customValues: altTicks, lineStyle: { color: "#777", width: 3 } },
          axisLabel: { customValues: altTicks, color: "#808080", fontSize: 34, fontFamily: FONT, margin: 24 },
          splitLine: { show: false },
        },
        {
          type: "value",
          position: "right",
          min: -1,
          max: 1,
          interval: 0.2,
          axisLine: { show: true, lineStyle: { color: GREEN, width: 3 } },
          axisTick: { show: true, length: 16, lineStyle: { color: GREEN, width: 3 } },
          axisLabel: { color: GREEN, fontSize: 34, fontFamily: FONT, align: "right", margin: 92, formatter: fmtShear },
          splitLine: { show: false },
        },
      ],
      series: [
        {
          type: "custom",
          name: "altitude",
          xAxisIndex: 0,
          yAxisIndex: 0,
          data: band,
          encode: { x: 0, y: [1, 2] },
          renderItem: renderBand,
          clip: true,
          silent: true,
          z: 3,
          markArea: {
            silent: true,
            itemStyle: { color: "rgba(0,0,0,0.098)" },
            data: [[{ xAxis: 2011.0 }, { xAxis: X_MAX }]],
          },
        },
        {
          type: "scatter",
          name: "shear",
          xAxisIndex: 0,
          yAxisIndex: 1,
          data: shearPts,
          symbolSize: 7.5,
          itemStyle: { color: GREEN, opacity: 1 },
          z: 5,
          silent: true,
        },
      ],
      graphic: [
        {
          type: "text",
          x: 26,
          y: 308,
          rotation: Math.PI / 2,
          style: { text: "altitude [km]", fill: "#808080", fontSize: 34, fontFamily: FONT, align: "center", verticalAlign: "middle" },
        },
        {
          type: "text",
          x: 1399,
          y: 311,
          rotation: Math.PI / 2,
          style: { text: "shear parameter \u2013 \u03B3 [rad]", fill: GREEN, fontSize: 34, fontFamily: FONT, align: "center", verticalAlign: "middle" },
        },
        {
          type: "rect",
          shape: { x: 920, y: 659, width: 295, height: 120 },
          style: { fill: "#fff", stroke: "#aaaaaa", lineWidth: 3 },
        },
        {
          type: "text",
          x: 1067,
          y: 690,
          style: { text: "Decreasing", fill: "#8c8c8c", fontSize: 31, fontWeight: "bold", fontFamily: FONT, align: "center", verticalAlign: "middle" },
        },
        {
          type: "text",
          x: 1067,
          y: 729,
          style: { text: "altitude", fill: "#8c8c8c", fontSize: 31, fontWeight: "bold", fontFamily: FONT, align: "center", verticalAlign: "middle" },
        },
      ],
    });

    return () => chart.dispose();
  }, []);

  return (
    <div
      ref={ref}
      style={{ position: "absolute", left: 0, top: 0, width: 1418, height: 753, background: "#fff" }}
    />
  );
}
